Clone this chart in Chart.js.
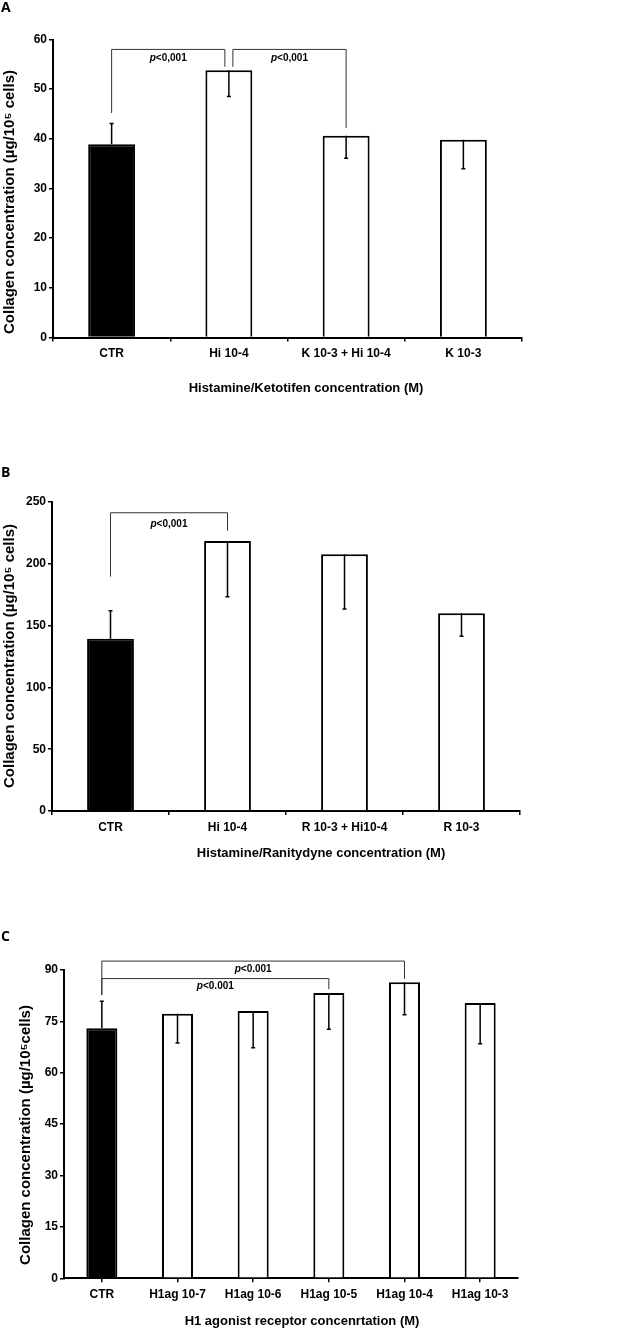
<!DOCTYPE html>
<html>
<head>
<meta charset="utf-8">
<script src="https://cdn.jsdelivr.net/npm/chart.js@4.4.1/dist/chart.umd.min.js"></script>
<style>
  body { margin: 0; background: #fff; width: 628px; height: 1329px; position: relative; overflow: hidden; }
  canvas { position: absolute; left: 0; }
  .tag { position: absolute; left: 1px; font: bold 14px "Open Sans", sans-serif; color: #000; }
</style>
</head>
<body>
<canvas id="chartA" style="top:0" width="628" height="400"></canvas>
<canvas id="chartB" style="top:440px" width="628" height="430"></canvas>
<canvas id="chartC" style="top:880px" width="628" height="449"></canvas>
<div class="tag" style="top:-3px">A</div>
<div class="tag" style="top:462px">B</div>
<div class="tag" style="top:926px">C</div>

<script>
// panel A: histamine / ketotifen
const labelsA = ["CTR", "Hi 10-4", "K 10-3 + Hi 10-4", "K 10-3"];
const valuesA = [38.9, 53.8, 40.6, 39.8];
const errorsA = [4.2, 5.3, 4.5, 5.8];

// panel B: histamine / ranitidine
const labelsB = ["CTR", "Hi 10-4", "R 10-3 + Hi10-4", "R 10-3"];
const valuesB = [139.4, 218.4, 207.7, 160];
const errorsB = [22.6, 45, 44.3, 18.7];

// panel C: H1 agonist
const labelsC = ["CTR", "H1ag 10-7", "H1ag 10-6", "H1ag 10-5", "H1ag 10-4", "H1ag 10-3"];
const valuesC = [73.0, 77.2, 78.0, 83.3, 86.4, 80.4];
const errorsC = [7.9, 8.5, 10.7, 10.6, 9.5, 11.9];

const FONT = '"Liberation Sans", Arial, sans-serif';

// significance brackets, in data units (from/to = category index)
const bracketsA = [
  { from: 0, to: 1, top: 58, legFrom: 45.2, legTo: 54.5, dxFrom: 0, dxTo: -4, text: "<0,001", textY: 56.2 },
  { from: 1, to: 2, top: 58, legFrom: 54.5, legTo: 42.2, dxFrom: 4, dxTo: 0, text: "<0,001", textY: 56.2 }
];
const bracketsB = [
  { from: 0, to: 1, top: 241.3, legFrom: 189.6, legTo: 226.8, dxFrom: 0, dxTo: 0, text: "<0,001", textY: 232 }
];
const bracketsC = [
  { from: 0, to: 4, top: 92.6, legFrom: 82.7, legTo: 87.4, dxFrom: 0, dxTo: 0, text: "<0.001", textY: 90.3 },
  { from: 0, to: 3, top: 87.5, legFrom: 82.7, legTo: 84.4, dxFrom: 0, dxTo: 0, text: "<0.001", textY: 85.3 }
];

const overlay = {
  id: "overlay",
  afterDatasetsDraw(chart, args, opts) {
    const { ctx, scales: { x, y } } = chart;
    const data = chart.data.datasets[0].data;
    const meta = chart.getDatasetMeta(0);
    ctx.save();

    // error bars: up for the control, down inside the white bars
    ctx.strokeStyle = "#000";
    ctx.lineWidth = 1.5;
    meta.data.forEach((bar, i) => {
      const end = i === 0 ? data[i] + opts.errors[i] : data[i] - opts.errors[i];
      const yEnd = y.getPixelForValue(end);
      ctx.beginPath();
      ctx.moveTo(bar.x, bar.y);
      ctx.lineTo(bar.x, yEnd);
      ctx.moveTo(bar.x - 2, yEnd);
      ctx.lineTo(bar.x + 2, yEnd);
      ctx.stroke();
    });

    // brackets
    ctx.strokeStyle = "#333";
    ctx.lineWidth = 1;
    ctx.fillStyle = "#000";
    ctx.textBaseline = "middle";
    opts.brackets.forEach(b => {
      const x1 = x.getPixelForValue(b.from) + b.dxFrom;
      const x2 = x.getPixelForValue(b.to) + b.dxTo;
      const yt = y.getPixelForValue(b.top);
      ctx.beginPath();
      ctx.moveTo(x1, y.getPixelForValue(b.legFrom));
      ctx.lineTo(x1, yt);
      ctx.lineTo(x2, yt);
      ctx.lineTo(x2, y.getPixelForValue(b.legTo));
      ctx.stroke();
      const fp = "italic bold 10px " + FONT;
      const fr = "bold 10px " + FONT;
      ctx.font = fp;
      const wp = ctx.measureText("p").width;
      ctx.font = fr;
      const wr = ctx.measureText(b.text).width;
      const cx = (x1 + x2) / 2;
      const ty = y.getPixelForValue(b.textY);
      ctx.textAlign = "left";
      ctx.font = fp;
      ctx.fillText("p", cx - (wp + wr) / 2, ty);
      ctx.font = fr;
      ctx.fillText(b.text, cx - (wp + wr) / 2 + wp, ty);
    });

    // axis titles
    ctx.fillStyle = "#000";
    ctx.textAlign = "center";
    ctx.font = "bold 13px " + FONT;
    ctx.fillText(opts.xTitle, opts.xTitleAt[0], opts.xTitleAt[1]);
    ctx.save();
    ctx.translate(opts.yTitleAt[0], opts.yTitleAt[1]);
    ctx.rotate(-Math.PI / 2);
    ctx.font = "bold 15px " + FONT;
    ctx.fillText(opts.yTitle, 0, 0);
    ctx.restore();

    ctx.restore();
  }
};

function makePanel(id, labels, values, errors, brackets, p) {
  const canvas = document.getElementById(id);
  const h = canvas.height;
  return new Chart(canvas, {
    type: "bar",
    data: {
      labels,
      datasets: [{
        data: values,
        backgroundColor: values.map((v, i) => i === 0 ? "#000" : "#fff"),
        borderColor: "#000",
        borderWidth: 2,
        barPercentage: p.barPct,
        categoryPercentage: 1
      }]
    },
    options: {
      responsive: false,
      animation: false,
      events: [],
      layout: { padding: { left: 0, top: p.area[1], right: 628 - p.area[2], bottom: 0 } },
      plugins: {
        legend: { display: false },
        tooltip: { enabled: false },
        overlay: {
          errors, brackets,
          xTitle: p.xTitle, xTitleAt: p.xTitleAt,
          yTitle: p.yTitle, yTitleAt: p.yTitleAt
        }
      },
      scales: {
        x: {
          afterFit: s => { s.height = h - p.area[3]; },
          grid: { drawOnChartArea: false, offset: p.tickOffset, tickLength: 4, color: "#000", lineWidth: 1.5 },
          border: { color: "#000", width: 2 },
          ticks: { color: "#000", padding: 5, maxRotation: 0, font: { family: FONT, size: 12, weight: "bold" } }
        },
        y: {
          min: p.yMin, max: p.yMax,
          afterFit: s => { s.width = p.area[0]; },
          grid: { drawOnChartArea: false, tickLength: 4, color: "#000", lineWidth: 1.5 },
          border: { color: "#000", width: 2 },
          ticks: { stepSize: p.step, color: "#000", padding: 2, font: { family: FONT, size: 12, weight: "bold" } }
        }
      }
    },
    plugins: [overlay]
  });
}

makePanel("chartA", labelsA, valuesA, errorsA, bracketsA, {
  area: [53, 39.5, 522, 337.5], yMin: 0, yMax: 60, step: 10, barPct: 0.4, tickOffset: true,
  xTitle: "Histamine/Ketotifen concentration (M)", xTitleAt: [306, 388],
  yTitle: "Collagen concentration (µg/10⁵ cells)", yTitleAt: [10, 202]
});

makePanel("chartB", labelsB, valuesB, errorsB, bracketsB, {
  area: [52, 62, 520, 371], yMin: 0, yMax: 250, step: 50, barPct: 0.4, tickOffset: true,
  xTitle: "Histamine/Ranitydyne concentration (M)", xTitleAt: [321, 413],
  yTitle: "Collagen concentration (µg/10⁵ cells)", yTitleAt: [10, 216]
});

makePanel("chartC", labelsC, valuesC, errorsC, bracketsC, {
  area: [64, 90, 518, 398.3], yMin: 0, yMax: 90, step: 15, barPct: 0.41, tickOffset: false,
  xTitle: "H1 agonist receptor concenrtation (M)", xTitleAt: [302, 441.7],
  yTitle: "Collagen concentration (µg/10⁵cells)", yTitleAt: [26, 255]
});
</script>
</body>
</html>
